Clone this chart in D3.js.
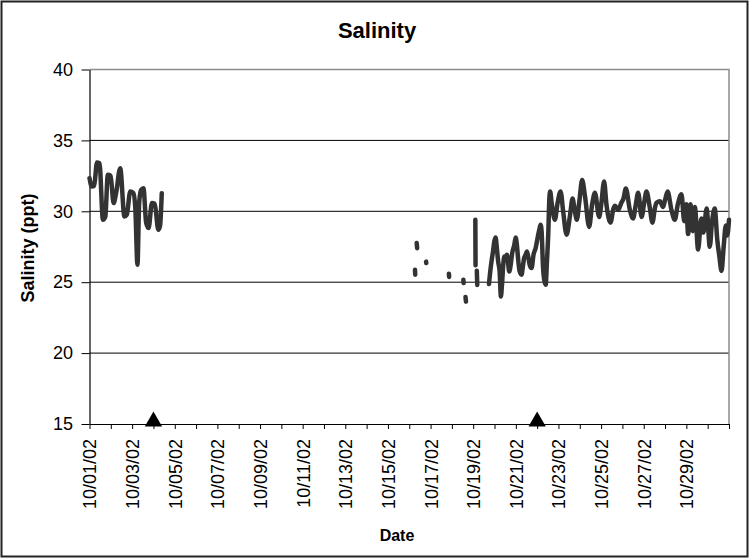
<!DOCTYPE html>
<html><head><meta charset="utf-8">
<script src="https://cdn.jsdelivr.net/npm/d3@7"></script>
<style>
body{margin:0;background:#fff}
text{font-family:"Liberation Sans",Arial,sans-serif;fill:#000}
</style>
</head><body>
<svg id="chart" width="751" height="560"></svg>
<script>
// ---------------- data ----------------
const chartTitle = "Salinity";
const yAxisTitle = "Salinity (ppt)";
const xAxisTitle = "Date";
const startDate = new Date(2002, 9, 1);
const endDate = new Date(2002, 9, 31);

// day offsets from 10/01/02 00:00 (null = gap in record)
const dayOffsets = [
  0.00,0.11,0.22,0.35,0.47,0.63,0.74,0.86,0.99,1.13,1.25,1.44,1.64,1.75,1.91,2.06,2.15,2.25,2.33,2.42,2.53,2.66,2.77,2.93,3.06,3.23,3.31,3.39,null,
  15.27,15.28,null, 15.35,15.37,null, 15.79,15.80,null, 16.86,16.87,null, 17.54,17.55,null, 17.64,17.66,null, 18.10,18.11,null, 18.17,18.19,null,
  18.74,18.80,18.87,18.93,18.99,19.05,19.11,19.17,19.24,19.30,19.35,19.41,19.46,19.52,19.58,19.63,19.69,19.76,19.83,19.93,
  19.99,20.05,20.11,20.18,20.27,20.33,20.39,20.46,20.52,20.58,20.65,20.74,20.83,20.93,20.99,21.05,21.12,21.16,21.21,21.27,
  21.33,21.40,21.46,21.52,21.57,21.61,21.68,21.83,21.96,22.10,22.22,22.38,22.55,22.66,22.75,22.86,22.98,23.11,23.25,23.44,
  23.58,23.71,23.91,24.00,24.14,24.25,24.44,24.58,24.65,24.80,24.95,25.05,25.16,25.35,25.50,25.62,25.74,25.90,26.02,26.13,
  26.28,26.41,26.52,26.60,26.76,26.91,27.00,27.12,27.30,27.46,27.60,27.77,27.90,28.00,28.08,28.20,28.30,28.40,28.55,28.70,
  28.80,28.95,29.10,29.20,29.33,29.45,29.55,29.65,29.75,29.85,29.92,30.00
];
const salinity = [
  32.34,31.75,31.80,33.44,33.39,29.40,29.60,32.57,32.50,30.58,31.30,33.04,29.63,29.75,31.39,31.28,30.20,26.23,30.60,31.50,31.63,29.17,28.82,30.58,30.53,28.70,28.98,31.28,null,
  25.88,25.53,null, 27.76,27.40,null, 26.45,26.35,null, 25.60,25.37,null, 25.17,24.94,null, 23.96,23.63,null, 29.40,26.20,null, 25.80,24.80,null,
  24.87,25.76,26.58,27.17,27.87,28.15,27.41,26.47,25.76,24.00,24.82,26.23,26.82,26.70,26.94,26.47,25.76,26.23,27.06,27.64,
  28.15,27.64,26.58,25.76,25.53,26.11,26.70,26.94,27.17,26.82,26.23,26.00,26.94,27.41,27.87,28.35,28.82,29.05,28.58,26.23,
  25.18,24.82,26.47,28.35,30.80,31.40,30.60,29.40,30.60,31.40,30.00,28.35,29.80,30.90,30.20,29.40,30.70,32.20,31.00,28.90,
  30.50,31.30,29.60,30.40,32.10,30.50,29.20,30.20,30.40,30.10,30.60,30.90,31.60,30.10,29.50,30.40,31.30,29.60,30.60,31.40,
  30.30,29.20,30.20,30.60,30.70,30.30,30.80,31.40,30.10,29.40,30.50,31.20,29.30,30.50,28.40,30.50,28.60,30.30,27.30,29.50,
  28.50,30.20,27.50,29.20,30.20,28.00,26.80,25.80,27.50,29.00,28.30,29.40
];

const yTickValues = [15, 20, 25, 30, 35, 40];
const gridValues = [20, 25, 30, 35];
const xTickLabels = ["10/01/02","10/03/02","10/05/02","10/07/02","10/09/02","10/11/02","10/13/02","10/15/02",
  "10/17/02","10/19/02","10/21/02","10/23/02","10/25/02","10/27/02","10/29/02"];
const eventDays = [3, 21];   // triangle markers on the date axis
const eventValue = 15;

// ---------------- drawing ----------------
const svg = d3.select("#chart");
const W = 751, H = 560;
const plot = {left: 89.5, right: 729, top: 69.5, bottom: 424};
const DAY = 86400000;
const toDate = d => new Date(startDate.getTime() + d * DAY);
const parseLabel = d3.timeParse("%m/%d/%y");

const x = d3.scaleTime().domain([startDate, endDate]).range([plot.left, plot.right]);
const y = d3.scaleLinear().domain([15, 40]).range([plot.bottom, plot.top]);

svg.append("rect").attr("x", 0).attr("y", 0).attr("width", W).attr("height", H).attr("fill", "#fff");
svg.append("rect").attr("x", 1.5).attr("y", 1.5).attr("width", 746).attr("height", 555)
  .attr("fill", "none").attr("stroke", "#222").attr("stroke-width", 2);

// gridlines
svg.append("g").selectAll("line").data(gridValues).join("line")
  .attr("x1", plot.left).attr("x2", plot.right)
  .attr("y1", d => y(d)).attr("y2", d => y(d))
  .attr("stroke", "#000").attr("stroke-width", 1);

// plot frame top/right (gray)
svg.append("path")
  .attr("d", `M${plot.left},${plot.top}H${plot.right}V${plot.bottom}`)
  .attr("fill", "none").attr("stroke", "#8c8c8c").attr("stroke-width", 1.5);

// y axis
const yAxis = svg.append("g").attr("transform", `translate(${plot.left},0)`)
  .call(d3.axisLeft(y).tickValues(yTickValues).tickSize(8).tickPadding(8.5).tickSizeOuter(0));
yAxis.select(".domain").attr("stroke", "#000").attr("stroke-width", 1.2);
yAxis.selectAll(".tick line").attr("stroke", "#000");
yAxis.selectAll("text").style("font-size", "18px").attr("fill", "#000");

// x axis: daily tick marks
const xTicks = svg.append("g").attr("transform", `translate(0,${plot.bottom})`)
  .call(d3.axisBottom(x).ticks(d3.timeDay.every(1)).tickSize(5).tickSizeOuter(0).tickFormat(""));
xTicks.select(".domain").attr("stroke", "#000").attr("stroke-width", 1.2);
xTicks.selectAll(".tick line").attr("stroke", "#000");

// x axis labels every two days
const xLab = svg.append("g").attr("transform", `translate(0,${plot.bottom})`)
  .call(d3.axisBottom(x).tickValues(xTickLabels.map(parseLabel)).tickSize(0)
    .tickFormat(d3.timeFormat("%m/%d/%y")));
xLab.select(".domain").remove();
xLab.selectAll("text")
  .style("font-size", "18px").attr("fill", "#000")
  .attr("transform", "rotate(-90)")
  .attr("x", -15).attr("y", 0).attr("dy", "0.36em")
  .style("text-anchor", "end");

// salinity line
const pts = dayOffsets.map((d, i) => ({d, v: salinity[i]}));
const line = d3.line()
  .defined(p => p.d !== null && p.v !== null)
  .curve(d3.curveMonotoneX)
  .x(p => x(toDate(p.d)))
  .y(p => y(p.v));
svg.append("path").datum(pts)
  .attr("d", line)
  .attr("fill", "none").attr("stroke", "#333")
  .attr("stroke-width", 4.5)
  .attr("stroke-linejoin", "round").attr("stroke-linecap", "round");

// event triangles
const tri = d3.symbol().type(d3.symbolTriangle).size(130);
svg.append("g").selectAll("path").data(eventDays).join("path")
  .attr("d", tri)
  .attr("transform", d => `translate(${x(toDate(d))},${y(eventValue) - 2.5})`)
  .attr("fill", "#000");

// titles
svg.append("text").attr("x", 377).attr("y", 38).attr("text-anchor", "middle")
  .style("font-size", "22px").style("font-weight", "bold").text(chartTitle);
svg.append("text").attr("transform", "translate(34,248) rotate(-90)").attr("text-anchor", "middle")
  .style("font-size", "18px").style("font-weight", "bold").text(yAxisTitle);
svg.append("text").attr("x", 397).attr("y", 541).attr("text-anchor", "middle")
  .style("font-size", "16px").style("font-weight", "bold").text(xAxisTitle);
</script>
</body></html>
